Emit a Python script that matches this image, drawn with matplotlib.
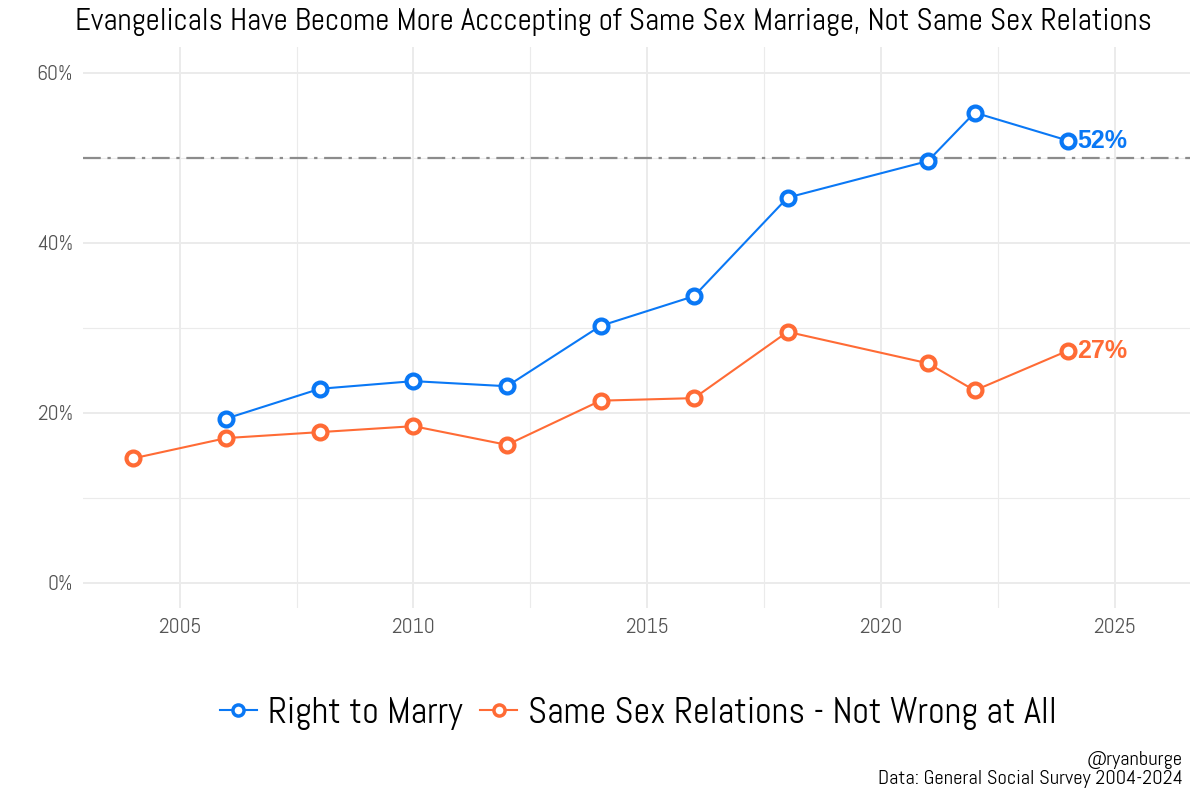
import matplotlib.pyplot as plt
from matplotlib import font_manager
import matplotlib.ticker as mticker

names = {f.name for f in font_manager.fontManager.ttflist}
base = 'Abel' if 'Abel' in names else 'DejaVu Sans'
plt.rcParams['font.family'] = [base, 'DejaVu Sans']

# data
marry_years = [2006, 2008, 2010, 2012, 2014, 2016, 2018, 2021, 2022, 2024]
marry_vals = [19.3, 22.8, 23.7, 23.1, 30.2, 33.7, 45.3, 49.6, 55.3, 52.0]
rel_years = [2004, 2006, 2008, 2010, 2012, 2014, 2016, 2018, 2021, 2022, 2024]
rel_vals = [14.6, 17.0, 17.7, 18.4, 16.2, 21.4, 21.7, 29.5, 25.8, 22.6, 27.3]

blue = '#0a78f5'
orange = '#ff6b35'

fig = plt.figure(figsize=(12, 8), dpi=100)
ax = fig.add_axes([0.069, 0.24, 0.9225, 0.701])

ax.set_xlim(2002.93, 2026.6)
ax.set_ylim(-3, 63)
ax.set_xticks([2005, 2010, 2015, 2020, 2025])
ax.set_xticks([2007.5, 2012.5, 2017.5, 2022.5], minor=True)
ax.set_yticks([0, 20, 40, 60])
ax.set_yticks([10, 30, 50], minor=True)
ax.yaxis.set_major_formatter(mticker.FuncFormatter(lambda v, p: f'{int(v)}%'))
ax.grid(which='major', color='#ebebeb', lw=1.4)
ax.grid(which='minor', color='#ebebeb', lw=0.8)
ax.set_axisbelow(True)
for s in ax.spines.values():
    s.set_visible(False)
ax.tick_params(which='both', length=0, labelsize=15.5, labelcolor='#555555', pad=7)

ax.axhline(50, color='#8c8c8c', lw=1.6, ls=(0, (8, 3, 1.5, 3)))

ax.plot(marry_years, marry_vals, color=blue, lw=1.5, marker='o', ms=10,
        mfc='white', mec=blue, mew=3, label='Right to Marry')
ax.plot(rel_years, rel_vals, color=orange, lw=1.5, marker='o', ms=10,
        mfc='white', mec=orange, mew=3, label='Same Sex Relations - Not Wrong at All')

bold = ['Liberation Sans', 'Arimo', 'DejaVu Sans']
ax.text(marry_years[-1] + 0.2, marry_vals[-1], f'{round(marry_vals[-1])}%', color=blue,
        fontsize=18, fontweight='bold', family=bold, va='center', ha='left')
ax.text(rel_years[-1] + 0.2, rel_vals[-1], f'{round(rel_vals[-1])}%', color=orange,
        fontsize=18, fontweight='bold', family=bold, va='center', ha='left')

fig.text(0.511, 0.972, 'Evangelicals Have Become More Acccepting of Same Sex Marriage, Not Same Sex Relations',
         ha='center', va='center', fontsize=22.3)

leg = fig.legend(loc='center', bbox_to_anchor=(0.532, 0.108), ncol=2, frameon=False,
                 fontsize=26.3, handlelength=1.0, handletextpad=0.3, columnspacing=0.5)
for h in leg.legend_handles:
    h.set_markersize(8)
    h.set_markeredgewidth(2.5)

fig.text(0.986, 0.05, '@ryanburge', ha='right', va='center', fontsize=14.7)
fig.text(0.986, 0.026, 'Data: General Social Survey 2004-2024', ha='right', va='center', fontsize=14.7)

fig.savefig('out.png', dpi=100, facecolor='white')
